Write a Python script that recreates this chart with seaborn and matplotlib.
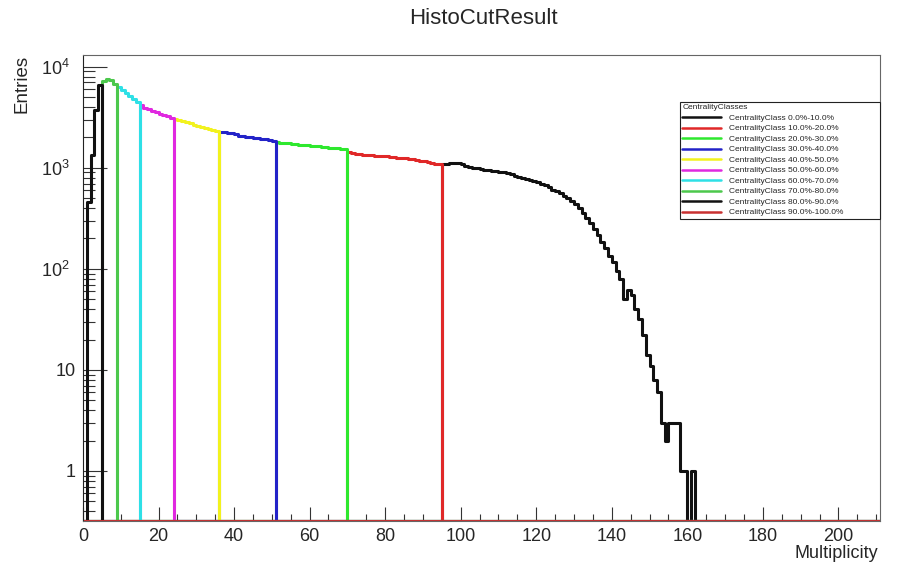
import numpy as np
import pandas as pd
import matplotlib
matplotlib.use("Agg")
import matplotlib.pyplot as plt
import matplotlib.ticker as mticker
import seaborn as sns

# --- datos: entradas por bin (ancho 1) desde multiplicidad 0 hasta 160 ---
entries = [
    0,
    460, 1350, 3700, 6600,
    7300, 7550, 7400, 6800,
    6300, 5900, 5500, 5100, 4800, 4450,
    4150, 3950, 3800, 3650, 3550, 3450, 3350, 3250, 3100,
    3050, 2950, 2900, 2820, 2750, 2680, 2620, 2550, 2480, 2420, 2360, 2300,
    2280, 2240, 2200, 2190, 2150, 2090, 2070, 2040, 2000, 1990, 1970, 1950,
    1920, 1870, 1830,
    1800, 1780, 1760, 1745, 1730, 1710, 1700, 1690, 1680, 1660, 1650, 1630,
    1620, 1600, 1590, 1570, 1555, 1540, 1520,
    1450, 1410, 1380, 1360, 1350, 1340, 1330, 1320, 1315, 1310, 1300, 1290,
    1270, 1260, 1255, 1240, 1230, 1210, 1190, 1175, 1160, 1140, 1120, 1100, 1080,
    1080, 1090, 1110, 1120, 1130, 1080, 1050, 1020, 1000, 990, 980, 960, 950,
    940, 930, 920, 900, 880, 860, 840, 820, 800, 780, 760, 740, 720, 700,
    670, 640, 610, 590, 560, 530, 500, 475, 440, 400, 360, 320, 285, 250,
    215, 185, 160, 135, 118, 95, 80, 50, 62, 55, 40, 32, 22, 14, 11, 8,
    6, 3, 2, 3, 3, 3, 1, 1, 0, 1,
]
# cortes de centralidad (borde superior de cada clase, de 0% a 100%)
class_cuts = [162, 95, 70, 51, 36, 24, 15, 9, 5, 1, 0]
class_labels = [
    "CentralityClass 0.0%-10.0%", "CentralityClass 10.0%-20.0%",
    "CentralityClass 20.0%-30.0%", "CentralityClass 30.0%-40.0%",
    "CentralityClass 40.0%-50.0%", "CentralityClass 50.0%-60.0%",
    "CentralityClass 60.0%-70.0%", "CentralityClass 70.0%-80.0%",
    "CentralityClass 80.0%-90.0%", "CentralityClass 90.0%-100.0%",
]
class_colors = ["#111111", "#e02828", "#2ee82e", "#2323c8", "#f2f21e",
                "#e028e0", "#2ee0e6", "#4cc84c", "#111111", "#c83030"]

x_max = 211
y_min, y_max = 0.32, 13100

edges = list(range(0, x_max + 1))
centers = np.arange(0, x_max) + 0.5
full = np.zeros(len(centers))
full[:len(entries)] = entries

# Configuración estética
sns.set_theme(style="white")
plt.rcParams['font.family'] = ['Liberation Sans', 'DejaVu Sans']
plt.rcParams['mathtext.fontset'] = 'custom'
plt.rcParams['mathtext.rm'] = 'Liberation Sans'
plt.rcParams['mathtext.it'] = 'Liberation Sans:italic'

fig = plt.figure(figsize=(8.97, 5.65), dpi=100)
ax = fig.add_axes([0.0925, 0.0779, 0.8885, 0.8248])

for i, lab in enumerate(class_labels):
    hi, lo = class_cuts[i], class_cuts[i + 1]
    vals = np.where((centers >= lo) & (centers < hi), full, 0)
    # como ROOT: los bins vacíos se dibujan en el borde inferior
    vals = np.maximum(vals, y_min)
    df = pd.DataFrame({"mult": centers, "n": vals})
    sns.histplot(data=df, x="mult", weights="n", bins=edges, element="step",
                 fill=False, color=class_colors[i], linewidth=2.2,
                 label=lab, ax=ax)

ax.set_yscale("log")
ax.set_xlim(0, x_max)
ax.set_ylim(y_min, y_max)
ax.set_xlabel("")
ax.set_ylabel("")

ax.xaxis.set_major_locator(mticker.MultipleLocator(20))
ax.xaxis.set_minor_locator(mticker.MultipleLocator(5))
ax.yaxis.set_major_locator(mticker.LogLocator(base=10))
ax.yaxis.set_minor_locator(mticker.LogLocator(base=10, subs=np.arange(2, 10)))
ax.yaxis.set_minor_formatter(mticker.NullFormatter())


def fmt_y(v, pos):
    if v < 0.5:
        return ""
    e = int(round(np.log10(v)))
    if e == 0:
        return "1"
    if e == 1:
        return "10"
    return r"$10^{%d}$  " % e


ax.yaxis.set_major_formatter(mticker.FuncFormatter(fmt_y))
ax.tick_params(axis="x", which="major", direction="in", length=10, width=0.8,
               color="#333333", labelsize=13, pad=5, bottom=True, top=False)
ax.tick_params(axis="x", which="minor", direction="in", length=5, width=0.8,
               color="#333333", bottom=True, top=False)
ax.tick_params(axis="y", which="major", direction="in", length=17, width=0.8,
               color="#333333", labelsize=13, pad=5, left=True, right=False)
ax.tick_params(axis="y", which="minor", direction="in", length=8.5, width=0.8,
               color="#333333", left=True, right=False)
for s in ax.spines.values():
    s.set_color("#666666")
    s.set_linewidth(0.8)
ax.spines["left"].set_color("#222222")

leg = ax.legend(loc="upper left", bbox_to_anchor=(0.758, 0.611, 0.223, 0.2085),
                bbox_transform=fig.transFigure, mode="expand",
                title="CentralityClasses", fontsize=6, title_fontsize=6,
                frameon=True, fancybox=False, framealpha=1, edgecolor="#222222",
                handlelength=4.6, handletextpad=1.0, labelspacing=0.32,
                borderpad=0.3, borderaxespad=0, alignment="left")
leg.get_frame().set_linewidth(0.8)
for h in leg.get_lines():
    h.set_linewidth(1.8)

fig.text(483 / 897, 1 - 18 / 565, "HistoCutResult", ha="center", va="center",
         fontsize=16)
fig.text(0.979, 1 - 553 / 565, "Multiplicity", ha="right", va="center",
         fontsize=13)
fig.text(0.025, 0.9027, "Entries", ha="center", va="top", rotation=90,
         fontsize=13.5)

fig.savefig("out.png", dpi=100)
